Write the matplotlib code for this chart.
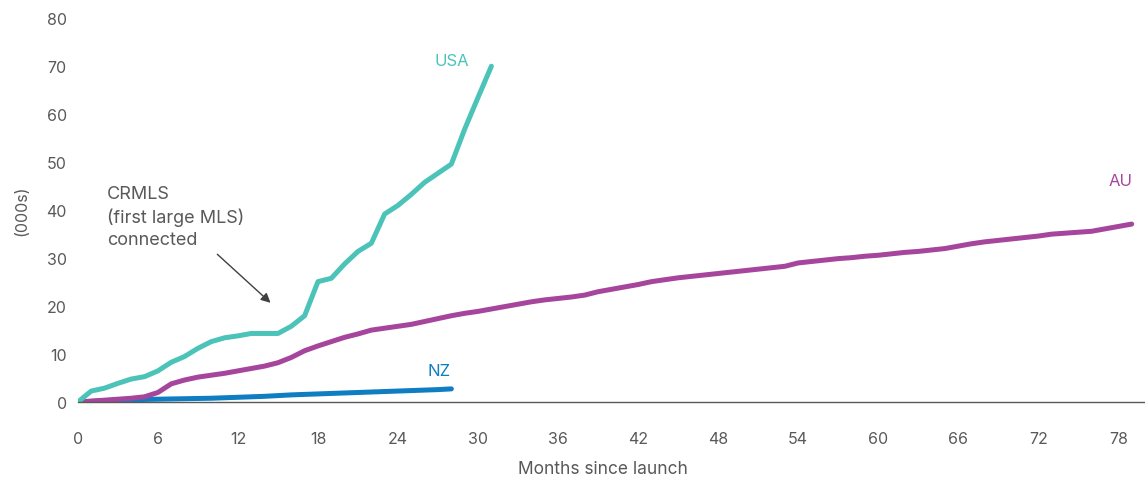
import matplotlib.pyplot as plt

plt.rcParams['font.family'] = ['Inter', 'DejaVu Sans']

# cumulative totals, thousands, one value per month since launch
usa = [0, 2.3, 2.9, 3.9, 4.8, 5.3, 6.5, 8.3, 9.5, 11.2, 12.6, 13.4, 13.8, 14.3,
       14.3, 14.3, 15.8, 18.0, 25.1, 25.8, 28.8, 31.4, 33.1, 39.2, 41.0, 43.3,
       45.8, 47.7, 49.6, 56.9, 63.5, 70.0]
au = [0, 0.2, 0.4, 0.6, 0.8, 1.1, 2.0, 3.8, 4.6, 5.2, 5.6, 6.0, 6.5, 7.0, 7.5,
      8.2, 9.3, 10.7, 11.7, 12.6, 13.5, 14.2, 15.0, 15.4, 15.8, 16.2, 16.8,
      17.4, 18.0, 18.5, 18.9, 19.4, 19.9, 20.4, 20.9, 21.3, 21.6, 21.9, 22.3,
      23.0, 23.5, 24.0, 24.5, 25.1, 25.5, 25.9, 26.2, 26.5, 26.8, 27.1, 27.4,
      27.7, 28.0, 28.3, 29.0, 29.3, 29.6, 29.9, 30.1, 30.4, 30.6, 30.9, 31.2,
      31.4, 31.7, 32.0, 32.5, 33.0, 33.4, 33.7, 34.0, 34.3, 34.6, 35.0, 35.2,
      35.4, 35.6, 36.1, 36.6, 37.1]
nz = [0, 0.15, 0.3, 0.4, 0.5, 0.55, 0.6, 0.65, 0.7, 0.75, 0.8, 0.9, 1.0, 1.1,
      1.2, 1.35, 1.5, 1.6, 1.7, 1.8, 1.9, 2.0, 2.1, 2.2, 2.3, 2.4, 2.5, 2.6,
      2.75]
month_ticks = list(range(0, 79, 6))
value_ticks = list(range(0, 81, 10))

c_usa = '#4cc3b9'
c_au = '#a6459c'
c_nz = '#0f7dc1'
grey = '#595959'

fig = plt.figure(figsize=(11.45, 4.81), dpi=100)
ax = fig.add_axes([0.068, 0.162, 0.932, 0.798])

ax.plot(range(len(nz)), nz, color=c_nz, lw=3.6, solid_capstyle='round')
ax.plot(range(len(au)), au, color=c_au, lw=3.6, solid_capstyle='round')
ax.plot(range(len(usa)), usa, color=c_usa, lw=3.6, solid_capstyle='round')

ax.set_xlim(0, 80)
ax.set_ylim(0, 80)
ax.set_xticks(month_ticks)
ax.set_yticks(value_ticks)
ax.tick_params(length=0, labelsize=11.5, labelcolor=grey)
ax.tick_params(axis='x', pad=21)
ax.tick_params(axis='y', pad=8)
for s in ['top', 'right', 'left']:
    ax.spines[s].set_visible(False)
ax.spines['bottom'].set_color(grey)
ax.spines['bottom'].set_linewidth(1)

ax.set_xlabel('Months since launch', fontsize=12.5, color=grey)
ax.xaxis.set_label_coords(0.492, -0.152)
ax.set_ylabel('(000s)', fontsize=11.5, color=grey, labelpad=12)

# series labels at the end of each line
ax.text(28.0, 71.2, 'USA', color=c_usa, fontsize=12, ha='center', va='center')
ax.text(27.1, 6.5, 'NZ', color=c_nz, fontsize=12, ha='center', va='center')
ax.text(78.2, 46.2, 'AU', color=c_au, fontsize=12, ha='center', va='center')

ax.text(2.2, 45.2, 'CRMLS\n(first large MLS)\nconnected', color=grey,
        fontsize=13, ha='left', va='top', linespacing=1.36)
ax.annotate('', xy=(14.6, 20.3), xytext=(10.3, 31.2),
            arrowprops=dict(arrowstyle='-|>', color='#404040', lw=1,
                            mutation_scale=14))

fig.savefig('out.png', dpi=100)
